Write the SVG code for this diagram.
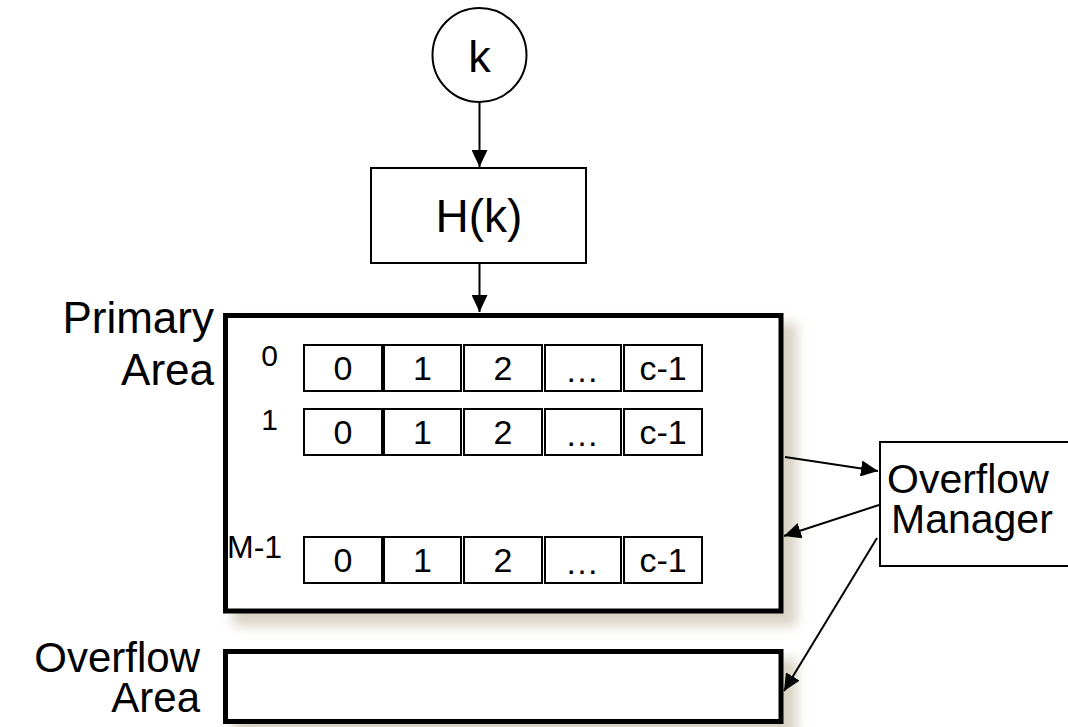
<svg xmlns="http://www.w3.org/2000/svg" width="1068" height="727" viewBox="0 0 1068 727">
  <defs>
    <style>
      .txt { font-family: "Liberation Sans", Arial, sans-serif; fill: #000; }
      .big { font-size: 44px; }
      .cell { fill: #fff; stroke: #000; stroke-width: 2; }
      .cellt { font-size: 34px; text-anchor: middle; }
      .rowl { font-size: 30px; }
      .area { fill: #fff; stroke: #000; stroke-width: 5; }
      .thin { fill: #fff; stroke: #000; stroke-width: 2; }
      .conn { stroke: #000; stroke-width: 2; fill: none; marker-end: url(#arrow); }
      .shadow { fill: #d9d3c5; filter: url(#soft); }
    </style>
    <marker id="arrow" viewBox="0 0 17 16" refX="17" refY="8" markerWidth="17" markerHeight="16" markerUnits="userSpaceOnUse" orient="auto">
      <path d="M0,0 L17,8 L0,16 Z" fill="#000"/>
    </marker>
    <filter id="soft" x="-10%" y="-10%" width="130%" height="130%">
      <feGaussianBlur stdDeviation="6"/>
    </filter>
    <!-- one bucket row: five slots -->
    <g id="bucket">
      <rect class="cell" x="0" y="0" width="78" height="46"/>
      <rect class="cell" x="80" y="0" width="77" height="46"/>
      <rect class="cell" x="160" y="0" width="78" height="46"/>
      <rect class="cell" x="241" y="0" width="76" height="46"/>
      <rect class="cell" x="320" y="0" width="78" height="46"/>
      <text class="txt cellt" x="39" y="35">0</text>
      <text class="txt cellt" x="118.5" y="35">1</text>
      <text class="txt cellt" x="199" y="35">2</text>
      <text class="txt cellt" x="279" y="37" letter-spacing="2">…</text>
      <text class="txt cellt" x="359" y="35">c-1</text>
    </g>
  </defs>

  <rect width="1068" height="727" fill="#fff"/>

  <!-- key -->
  <g id="key">
    <circle cx="479.5" cy="55" r="47" fill="#fff" stroke="#000" stroke-width="2"/>
    <text class="txt" x="479.5" y="72" font-size="45" text-anchor="middle">k</text>
  </g>

  <!-- hash function -->
  <g id="hash">
    <rect class="thin" x="371" y="168" width="215" height="95"/>
    <text class="txt" x="479" y="232" font-size="46" text-anchor="middle">H(k)</text>
  </g>

  <!-- primary area -->
  <g id="primary-area">
    <rect class="shadow" x="233" y="323" width="564" height="303"/>
    <rect class="area" x="225.5" y="315.5" width="555.5" height="295.5"/>
    <text class="txt big" x="214" y="333" text-anchor="end">Primary</text>
    <text class="txt big" x="214" y="385" text-anchor="end">Area</text>
    <text class="txt rowl" x="269.5" y="366" text-anchor="middle">0</text>
    <text class="txt rowl" x="269.5" y="430" text-anchor="middle">1</text>
    <text class="txt" x="227" y="558" font-size="32">M-1</text>
    <use href="#bucket" x="304" y="345"/>
    <use href="#bucket" x="304" y="409"/>
    <use href="#bucket" x="304" y="537"/>
  </g>

  <!-- overflow area -->
  <g id="overflow-area">
    <rect class="shadow" x="233" y="659" width="564" height="80"/>
    <rect class="area" x="225.5" y="651.5" width="555.5" height="70"/>
    <text class="txt" x="200" y="672" font-size="42" text-anchor="end">Overflow</text>
    <text class="txt" x="200" y="712" font-size="42" text-anchor="end">Area</text>
  </g>

  <!-- overflow manager -->
  <g id="overflow-manager">
    <rect class="thin" x="880" y="442" width="200" height="124"/>
    <text class="txt" x="887" y="493" font-size="41">Overflow</text>
    <text class="txt" x="891" y="533" font-size="41">Manager</text>
  </g>

  <!-- connectors -->
  <g id="connectors">
    <line class="conn" x1="479.5" y1="103" x2="479.5" y2="167"/>
    <line class="conn" x1="479.5" y1="264" x2="479.5" y2="312"/>
    <line class="conn" x1="785" y1="457" x2="878" y2="471"/>
    <line class="conn" x1="879" y1="505" x2="784" y2="536"/>
    <line class="conn" x1="877" y1="538" x2="784" y2="691"/>
  </g>
</svg>
